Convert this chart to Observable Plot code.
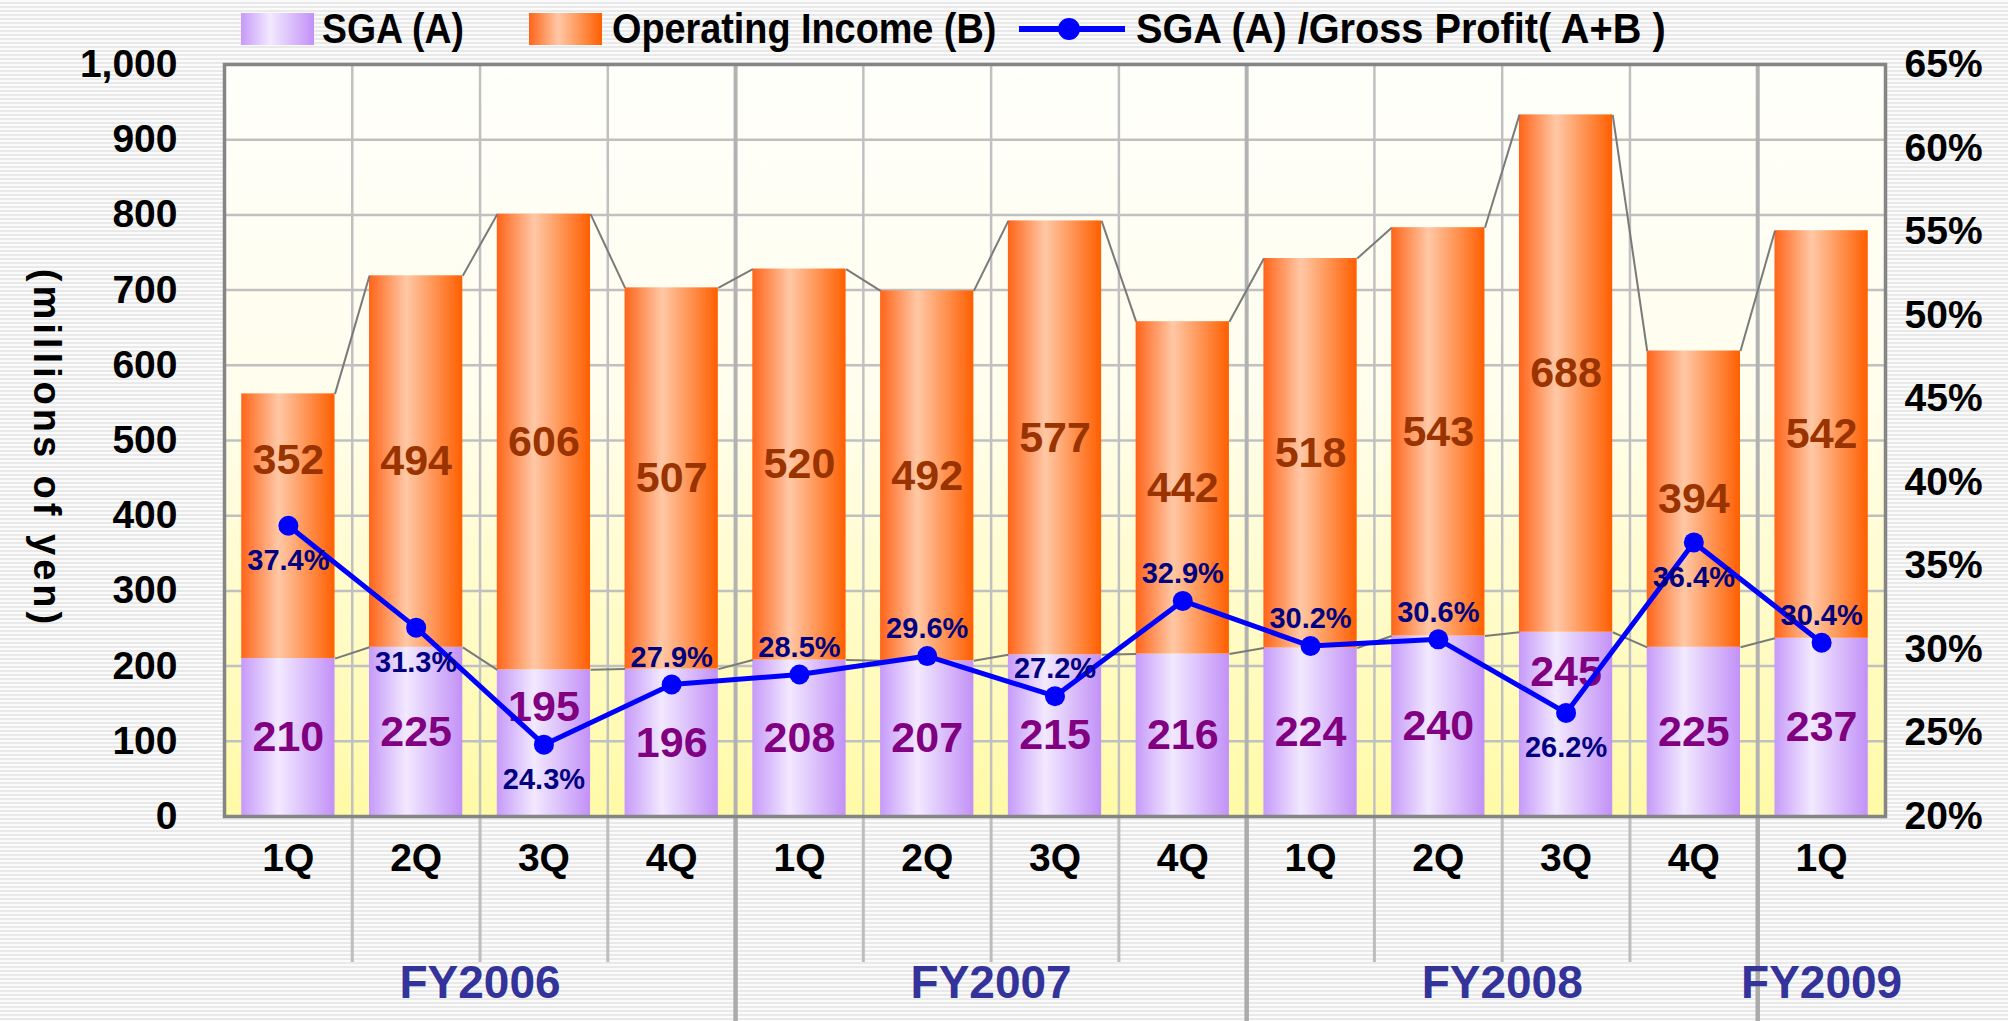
<!DOCTYPE html>
<html>
<head>
<meta charset="utf-8">
<script src="https://cdn.jsdelivr.net/npm/d3@7"></script>
<script src="https://cdn.jsdelivr.net/npm/@observablehq/plot@0.6"></script>
<style>
  html, body { margin: 0; padding: 0; }
  body {
    width: 2008px; height: 1021px; overflow: hidden;
    background: repeating-linear-gradient(to bottom, #fbfbfb 0px, #fbfbfb 2px, #e9e9e9 2px, #e9e9e9 4px);
    font-family: "Liberation Sans", Arial, sans-serif;
  }
  #legend { position: relative; height: 48px; }
  .item { position: absolute; top: 5px; height: 48px; display: flex; align-items: center; }
  .sw { width: 73px; height: 32px; flex: none; }
  .lt { display: inline-block; font-family: "Liberation Sans", Arial, sans-serif; font-weight: bold;
        font-size: 42px; color: #000; white-space: pre; transform-origin: left center; }
  #chart svg { display: block; }
</style>
</head>
<body>
<div id="legend"></div>
<div id="chart"></div>
<script>
// ---------------- data ----------------
const fiscalYears = ["FY2006","FY2006","FY2006","FY2006","FY2007","FY2007","FY2007","FY2007","FY2008","FY2008","FY2008","FY2008","FY2009"];
const quarters = ["1Q","2Q","3Q","4Q","1Q","2Q","3Q","4Q","1Q","2Q","3Q","4Q","1Q"];
const sga = [210, 225, 195, 196, 208, 207, 215, 216, 224, 240, 245, 225, 237];
const operatingIncome = [352, 494, 606, 507, 520, 492, 577, 442, 518, 543, 688, 394, 542];
const sgaRatio = [37.4, 31.3, 24.3, 27.9, 28.5, 29.6, 27.2, 32.9, 30.2, 30.6, 26.2, 36.4, 30.4];
const ratioLabelSide = ["below","below","below","above","above","above","above","above","above","above","below","below","above"];
const leftTicks = [0, 100, 200, 300, 400, 500, 600, 700, 800, 900, 1000];
const rightTicks = [20, 25, 30, 35, 40, 45, 50, 55, 60, 65];
const seriesNames = ["SGA (A)", "Operating Income (B)", "SGA (A) /Gross Profit( A+B )"];
const yTitle = "(millions of yen)";

// ---------------- legend ----------------
const gradSGA = "linear-gradient(to right,#c69af9,#f2e9ff 40%,#c291f7)";
const gradOP = "linear-gradient(to right,#ff6418,#ffc8a6 40%,#ff5f00)";
const legend = document.getElementById("legend");
legend.innerHTML = `
  <div class="item" style="left:241px"><div class="sw" style="background:${gradSGA}"></div><span class="lt" style="margin-left:8px;transform:scaleX(0.89)">${seriesNames[0]}</span></div>
  <div class="item" style="left:529px"><div class="sw" style="background:${gradOP}"></div><span class="lt" style="margin-left:10px;transform:scaleX(0.9)">${seriesNames[1]}</span></div>
  <div class="item" style="left:1019px"><svg width="106" height="30" style="flex:none"><line x1="0" y1="15" x2="106" y2="15" stroke="#0000ff" stroke-width="6"/><circle cx="50" cy="15" r="11" fill="#0000ff"/></svg><span class="lt" style="margin-left:11px;transform:scaleX(0.945)">${seriesNames[2]}</span></div>`;

// ---------------- chart ----------------
const n = sga.length;
const rToY = r => (r - 20) / 45 * 1000;
const rows = d3.range(n).map(i => ({
  i, q: quarters[i], fy: fiscalYears[i],
  sga: sga[i], op: operatingIncome[i], total: sga[i] + operatingIncome[i],
  ratio: sgaRatio[i], side: ratioLabelSide[i]
}));
const W = 2008, H = 973, mT = 16, mB = 205, mL = 224, mR = 123;
const plotH = H - mT - mB;
const half = 0.365;
const near = 40;
// label position: centre of segment; if the ratio marker sits on it, halfway between marker and segment top
rows.forEach(d => {
  const p = rToY(d.ratio);
  const cS = d.sga / 2;
  d.sgaLabelY = Math.abs(cS - p) < near ? (p + d.sga) / 2 : cS;
  const cO = d.sga + d.op / 2;
  d.opLabelY = Math.abs(cO - p) < near ? (p + d.total) / 2 : cO;
  d.ry = p;
});
const boundaries = d3.range(n - 1).map(k => ({x: k + 0.5, fyEdge: fiscalYears[k] !== fiscalYears[k + 1]}));
const minorB = boundaries.filter(b => !b.fyEdge);
const fyB = boundaries.filter(b => b.fyEdge);
const fyGroups = d3.groups(rows, d => d.fy).map(([fy, rs]) => ({fy, x: d3.mean(rs, r => r.i)}));

const bold = "bold";
const plot = Plot.plot({
  width: W, height: H,
  marginTop: mT, marginBottom: mB, marginLeft: mL, marginRight: mR,
  style: {background: "transparent", fontFamily: "'Liberation Sans', Arial, sans-serif", overflow: "visible"},
  x: {type: "linear", domain: [-0.5, n - 0.5], axis: null},
  y: {domain: [0, 1000], axis: null},
  marks: [
    Plot.frame({fill: "url(#bgGrad)", stroke: "none"}),
    Plot.ruleY(leftTicks.filter(t => t > 0 && t < 1000), {stroke: "#c0c0c0", strokeWidth: 2.5}),
    Plot.ruleX(minorB, {x: "x", stroke: "#c0c0c0", strokeWidth: 2.5}),
    Plot.ruleX(fyB, {x: "x", stroke: "#b2b2b2", strokeWidth: 4}),
    Plot.ruleX(minorB, {x: "x", insetTop: plotH, insetBottom: -146, stroke: "#bdbdbd", strokeWidth: 3}),
    Plot.ruleX(fyB, {x: "x", insetTop: plotH, insetBottom: -mB, stroke: "#ababab", strokeWidth: 4.5}),
    Plot.rectY(rows, {x1: d => d.i - half, x2: d => d.i + half, y1: 0, y2: "sga", fill: "url(#gSGA)"}),
    Plot.rectY(rows, {x1: d => d.i - half, x2: d => d.i + half, y1: "sga", y2: "total", fill: "url(#gOP)"}),
    Plot.link(rows.slice(0, -1), {x1: d => d.i + half, x2: d => d.i + 1 - half, y1: "total", y2: d => rows[d.i + 1].total, stroke: "#7a7a7a", strokeWidth: 2}),
    Plot.link(rows.slice(0, -1), {x1: d => d.i + half, x2: d => d.i + 1 - half, y1: "sga", y2: d => rows[d.i + 1].sga, stroke: "#7a7a7a", strokeWidth: 2}),
    Plot.text(rows, {x: "i", y: "sgaLabelY", text: d => String(d.sga), fill: "#800080", fontSize: 43, fontWeight: bold}),
    Plot.text(rows, {x: "i", y: "opLabelY", text: d => String(d.op), fill: "#993300", fontSize: 43, fontWeight: bold}),
    Plot.line(rows, {x: "i", y: "ry", stroke: "#0000ff", strokeWidth: 5}),
    Plot.dot(rows, {x: "i", y: "ry", r: 10, fill: "#0000ff", stroke: "none"}),
    Plot.text(rows.filter(d => d.side === "below"), {x: "i", y: "ry", dy: 35, text: d => d.ratio.toFixed(1) + "%", fill: "#000080", fontSize: 29, fontWeight: bold}),
    Plot.text(rows.filter(d => d.side === "above"), {x: "i", y: "ry", dy: -27, text: d => d.ratio.toFixed(1) + "%", fill: "#000080", fontSize: 29, fontWeight: bold}),
    Plot.frame({stroke: "#858585", strokeWidth: 3.5}),
    Plot.text(leftTicks, {y: d => d, frameAnchor: "left", dx: -47, textAnchor: "end", text: d => d3.format(",")(d), fill: "#000", fontSize: 39, fontWeight: bold}),
    Plot.text(rightTicks, {y: d => rToY(d), frameAnchor: "right", dx: 19, textAnchor: "start", text: d => d + "%", fill: "#000", fontSize: 39, fontWeight: bold}),
    Plot.text(rows, {x: "i", frameAnchor: "bottom", dy: 54, text: "q", fill: "#000", fontSize: 39, fontWeight: bold}),
    Plot.text(fyGroups, {x: "x", frameAnchor: "bottom", dy: 181, text: "fy", fill: "#333399", fontSize: 46, fontWeight: bold}),
    Plot.text([yTitle], {frameAnchor: "left", dx: -178, dy: 8, rotate: 90, textAnchor: "middle", text: d => d, fill: "#000", fontSize: 38, fontWeight: bold})
  ]
});

// letter spacing of the axis title
d3.select(plot).selectAll("text").filter(function () { return this.textContent === yTitle; })
  .style("letter-spacing", "4px");

// gradient definitions
const defs = d3.select(plot).insert("defs", ":first-child");
function grad(id, vertical, stops) {
  const g = defs.append("linearGradient").attr("id", id)
    .attr("x1", 0).attr("y1", 0).attr("x2", vertical ? 0 : 1).attr("y2", vertical ? 1 : 0);
  stops.forEach(([o, c]) => g.append("stop").attr("offset", o).attr("stop-color", c));
}
grad("gSGA", false, [[0, "#c69af9"], [0.4, "#f2e9ff"], [1, "#c291f7"]]);
grad("gOP", false, [[0, "#ff6418"], [0.4, "#ffc8a6"], [1, "#ff5f00"]]);
grad("bgGrad", true, [[0, "#fffffb"], [0.45, "#fffdec"], [1, "#fffaa6"]]);

document.getElementById("chart").appendChild(plot);
</script>
</body>
</html>
